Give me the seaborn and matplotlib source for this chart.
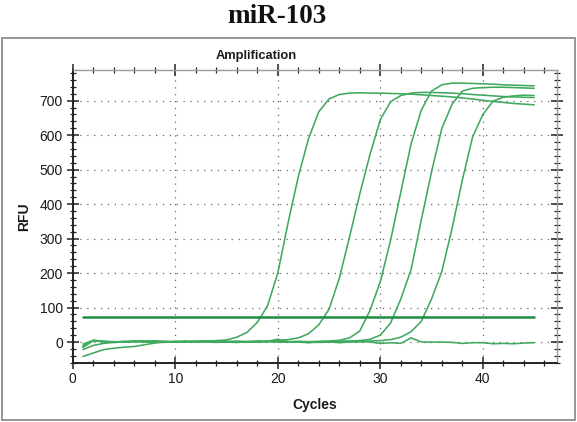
import numpy as np
import pandas as pd
import matplotlib
matplotlib.use("Agg")
import matplotlib.pyplot as plt
from matplotlib.patches import Rectangle
from matplotlib.ticker import MultipleLocator
import seaborn as sns

# qPCR amplification run, RFU per cycle for each well
cycles = list(range(1, 46))

well_a = [-42, -32, -22, -18, -15, -13, -8, -3, 0, 1, 2, 1, 3, 4, 6, 14, 28, 57, 105, 200,
          345, 480, 590, 668, 705, 718, 722, 723, 722, 722, 721, 720, 719, 717, 715, 713, 711,
          708, 705, 701, 698, 695, 692, 690, 688]
well_b = [-22, -10, -4, -1, 0, 2, 3, 2, 1, 0, 2, 1, 0, -1, 1, 2, 1, 3, 2, 4,
          7, 12, 24, 50, 95, 185, 305, 430, 545, 645, 697, 715, 722, 724, 724, 723, 722,
          720, 718, 716, 714, 712, 711, 710, 709]
well_c = [-16, 5, 2, 0, 1, 3, 2, 0, -1, 1, 2, 0, 1, 2, 0, -1, 1, 2, 1, 0,
          1, 2, 1, 2, 3, 5, 12, 32, 92, 175, 295, 435, 575, 673, 728, 746, 751,
          751, 750, 749, 748, 746, 745, 744, 743]
well_d = [-11, 4, 1, -1, 0, 2, 1, 3, 2, 0, 1, 2, 3, 1, 0, 2, 1, 0, 2, 3,
          1, 0, -1, 1, 0, 2, 3, 4, 8, 20, 55, 125, 210, 355, 494, 620, 690,
          728, 736, 738, 739, 739, 738, 737, 736]
well_e = [-6, 5, 2, 1, 0, 1, 3, 2, 0, 1, 0, 2, 1, 0, 2, 1, 0, 1, 2, 1,
          0, 1, 0, -1, 0, 1, 2, 1, 3, 4, 7, 14, 30, 60, 125, 205, 330,
          470, 595, 660, 699, 710, 714, 716, 715]
well_ntc = [-14, 4, 1, 0, 2, 1, 0, -1, 1, 2, 0, 1, 3, 2, 0, -1, 1, 0, 2, 8,
            1, 0, -2, 0, 1, -2, 0, 1, 0, -4, -2, -4, 12, 0, 0, 0, -1,
            -4, -2, -2, -5, -4, -5, -3, -2]

wells = {"A": well_a, "B": well_b, "C": well_c, "D": well_d, "E": well_e, "NTC": well_ntc}
threshold = 72

x_ticks = [0, 10, 20, 30, 40]
y_ticks = [0, 100, 200, 300, 400, 500, 600, 700]

frames = [pd.DataFrame({"Cycle": cycles, "RFU": v, "Well": k}) for k, v in wells.items()]
df = pd.concat(frames, ignore_index=True)
thr = pd.DataFrame({"Cycle": [cycles[0], cycles[-1]], "RFU": [threshold, threshold]})

sns.set_theme(style="white")
plt.rcParams["font.family"] = ["Liberation Sans", "DejaVu Sans"]

fig = plt.figure(figsize=(5.77, 4.22), dpi=100)
fig.patch.set_facecolor("white")
ax = fig.add_axes([0.126, 0.1405, 0.8388, 0.6936])

curve_green = "#3fa95f"
thr_green = "#1f8c44"

sns.lineplot(data=df, x="Cycle", y="RFU", units="Well", estimator=None,
             color=curve_green, lw=1.15, ax=ax, legend=False)
sns.lineplot(data=thr, x="Cycle", y="RFU", color=thr_green, lw=1.8, ax=ax, legend=False)

ax.set_xlim(0, 47.2)
ax.set_ylim(-60, 789)
ax.set_xticks(x_ticks)
ax.set_yticks(y_ticks)
ax.xaxis.set_minor_locator(MultipleLocator(2))
ax.yaxis.set_minor_locator(MultipleLocator(20))

ax.tick_params(which="major", direction="inout", length=8, width=1.1, color="#222",
               top=True, right=True, bottom=True, left=True, labelsize=10,
               labelcolor="#1a1a1a", pad=3)
ax.tick_params(which="minor", direction="inout", length=4.5, width=0.9, color="#222",
               top=True, right=True, bottom=True, left=True)

ax.grid(True, which="major", axis="both", linestyle=(0, (1, 4.5)), color="#666", lw=0.9)

for side in ("left", "bottom"):
    ax.spines[side].set_color("#222")
    ax.spines[side].set_linewidth(1.4)
for side in ("top", "right"):
    ax.spines[side].set_color("#9a9a9a")
    ax.spines[side].set_linewidth(1.0)

ax.set_xlabel("Cycles", fontsize=10, fontweight="bold", color="#1a1a1a", labelpad=8)
ax.set_ylabel("RFU", fontsize=10, fontweight="bold", color="#1a1a1a", labelpad=6)

fig.text(0.444, 0.868, "Amplification", ha="center", va="center",
         fontsize=9.3, fontweight="bold", color="#1a1a1a")
fig.text(0.48, 0.962, "miR-103", ha="center", va="center",
         fontsize=19.5, fontweight="bold", family=["Liberation Serif", "DejaVu Serif"],
         color="#111")

fig.patches.append(Rectangle((0.0035, 0.004), 0.9935, 0.906, transform=fig.transFigure,
                             fill=False, edgecolor="#8c8c8c", lw=1.3))

fig.savefig("out.png", dpi=100, facecolor="white")
